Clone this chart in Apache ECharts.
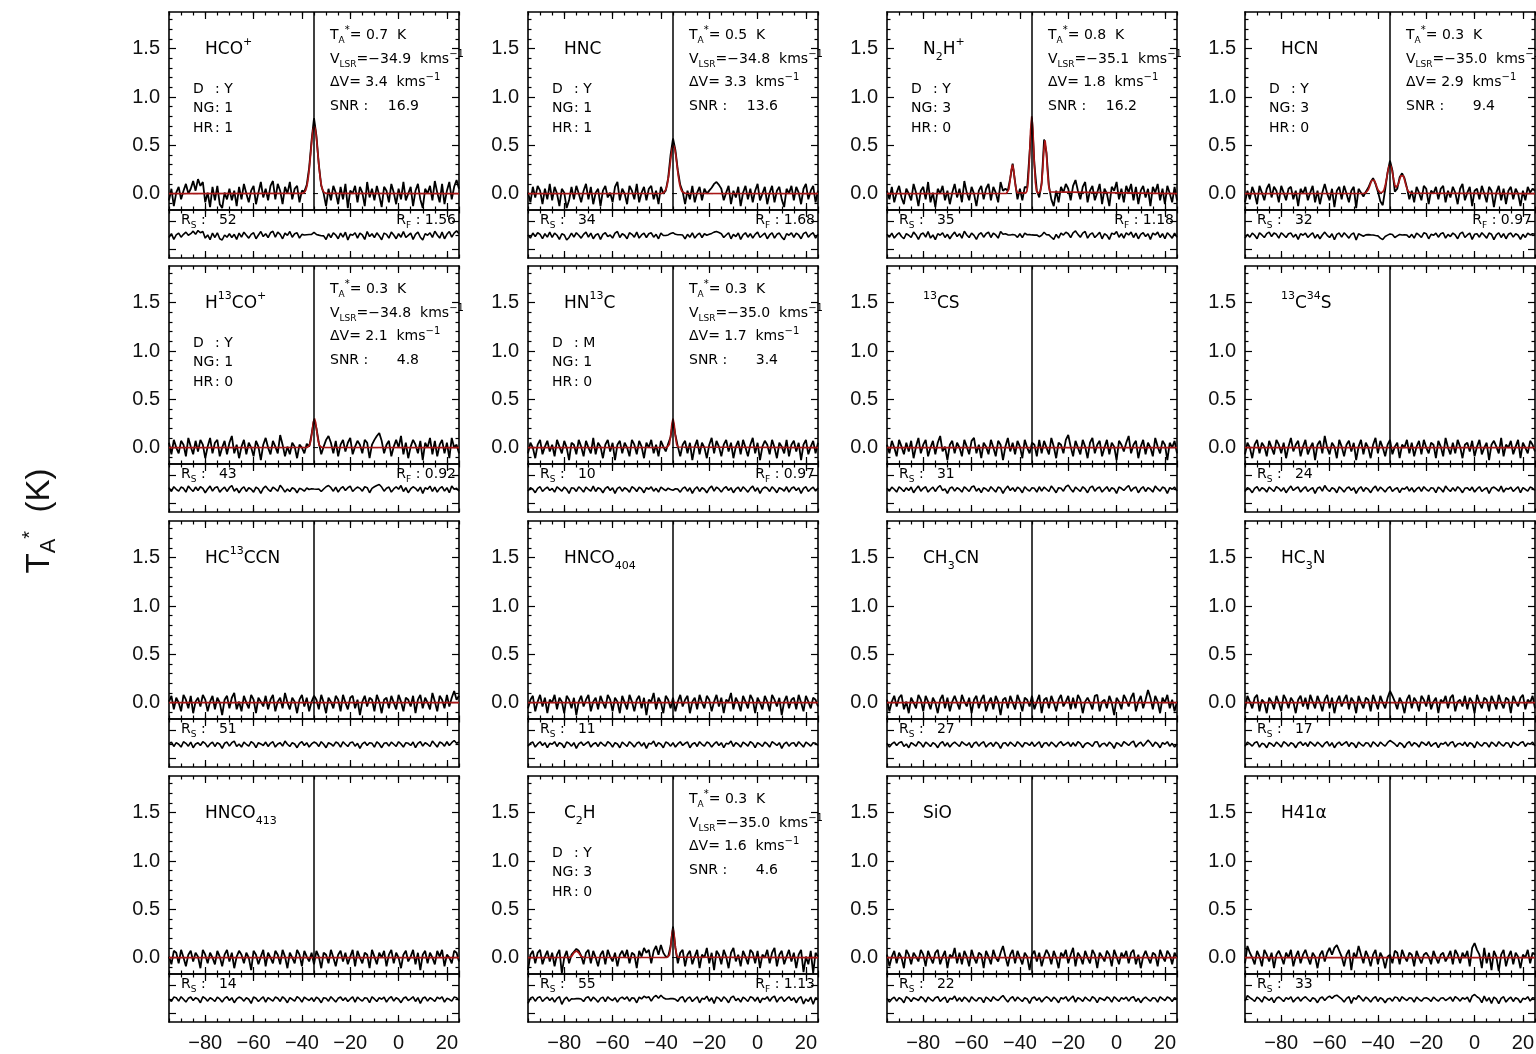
<!DOCTYPE html>
<html>
<head>
<meta charset="utf-8">
<script src="https://cdn.jsdelivr.net/npm/echarts@6/dist/echarts.min.js"></script>
<style>
html,body{margin:0;padding:0;background:#fff;}
#chart{width:1536px;height:1054px;}
</style>
</head>
<body>
<div id="chart"></div>
<script>
// ---- velocity axis: channels from -95 to +25 km/s, 1 km/s apart ----
const V_START = -95;
const V_STEP = 1;
const vRef = -35.0;                       // systemic velocity marker
const xTickLabels = [-80, -60, -40, -20, 0, 20];
const yTickLabels = [0, 0.5, 1.0, 1.5];
const yMinorTicks = [-0.1, 0.1, 0.2, 0.3, 0.4, 0.6, 0.7, 0.8, 0.9, 1.1, 1.2, 1.3, 1.4, 1.6, 1.7, 1.8];
const resTicks = [-0.45, 0.45];
const resMinorTicks = [0];

// ---- line list (row by row) ----
const molecules = ['HCO+', 'HNC', 'N2H+', 'HCN', 'H13CO+', 'HN13C', '13CS', '13C34S',
  'HC13CCN', 'HNCO404', 'CH3CN', 'HC3N', 'HNCO413', 'C2H', 'SiO', 'H41α'];
const moleculeMarkup = [
  '{n|HCO}{sup|+}', '{n|HNC}', '{n|N}{sub|2}{n|H}{sup|+}', '{n|HCN}',
  '{n|H}{sup|13}{n|CO}{sup|+}', '{n|HN}{sup|13}{n|C}', '{sup|13}{n|CS}', '{sup|13}{n|C}{sup|34}{n|S}',
  '{n|HC}{sup|13}{n|CCN}', '{n|HNCO}{sub|404}', '{n|CH}{sub|3}{n|CN}', '{n|HC}{sub|3}{n|N}',
  '{n|HNCO}{sub|413}', '{n|C}{sub|2}{n|H}', '{n|SiO}', '{n|H41α}'
];
const detFlag  = ['Y', 'Y', 'Y', 'Y', 'Y', 'M', null, null, null, null, null, null, null, 'Y', null, null];
const nGauss   = [1, 1, 3, 3, 1, 1, null, null, null, null, null, null, null, 3, null, null];
const hyperRes = [1, 1, 0, 0, 0, 0, null, null, null, null, null, null, null, 0, null, null];
const peakT    = [0.7, 0.5, 0.8, 0.3, 0.3, 0.3, null, null, null, null, null, null, null, 0.3, null, null];
const vLsr     = [-34.9, -34.8, -35.1, -35.0, -34.8, -35.0, null, null, null, null, null, null, null, -35.0, null, null];
const dV       = [3.4, 3.3, 1.8, 2.9, 2.1, 1.7, null, null, null, null, null, null, null, 1.6, null, null];
const snr      = [16.9, 13.6, 16.2, 9.4, 4.8, 3.4, null, null, null, null, null, null, null, 4.6, null, null];
const rS       = [52, 34, 35, 32, 43, 10, 31, 24, 51, 11, 27, 17, 14, 55, 22, 33];
const rF       = [1.56, 1.68, 1.18, 0.97, 0.92, 0.97, null, null, null, null, null, null, null, 1.13, null, null];

// ---- observed spectra, antenna temperature in units of 0.01 K ----
const specHCOp = [
  -7, 5, -13, 1, 7, -6, 3, 10, 0, 5,
  13, 3, 15, 8, 12, -9, 1, -14, 7, -7,
  8, -11, -15, 1, -6, 5, -7, 3, -13, 7,
  -6, 10, 0, -9, 3, 8, -11, 1, 12, -4,
  5, -7, 8, 13, -6, 10, 3, -11, 7, 0,
  12, -6, 5, 8, -9, 3, 2, 9, 27, 55,
  78, 60, 30, 8, 0, -13, 5, -7, 8, 1,
  -11, 7, -6, 10, -15, 3, 0, 8, -9, 7,
  1, -13, 12, -4, 5, -7, 8, -2, -14, 7,
  3, -9, 10, 1, -11, 5, -6, 12, -7, 0,
  7, -13, 3, 10, -6, -15, 5, 0, 8, -7,
  13, 1, -9, 10, -11, 3, 12, -6, 7, 14,
  5];
const specHNC = [
  1, -9, 7, -4, 8, 3, -11, 5, -6, 10,
  -7, 7, 0, -13, 5, 1, -15, -7, 7, -6,
  8, 0, -9, 3, 10, -6, 7, -11, 1, 5,
  -13, 3, 8, -4, 1, -9, 7, 12, -7, 5,
  0, -11, 8, 3, -6, 10, -9, 1, 7, -7,
  5, 8, -6, 3, -11, 7, 0, 3, 16, 40,
  57, 45, 24, 9, 2, -11, 3, -6, 8, -9,
  1, 7, -7, 5, 0, 3, 6, 10, 12, 9,
  5, -7, 1, 8, -11, 3, -4, 7, -13, 1,
  8, -6, 5, -9, 3, 10, -7, 0, 7, -11,
  1, 8, -9, 3, 7, -6, -14, 5, 0, 8,
  -7, 7, 1, -11, 5, 10, -6, 3, 8, -9,
  3];
const specN2Hp = [
  3, -6, 7, -9, 1, 8, -4, -11, 5, 0,
  -7, 10, 1, -13, 3, 7, -6, 12, -9, 1,
  -14, 5, 0, 8, -7, 3, -11, 1, 10, -4,
  5, -9, 13, 1, -7, 7, 0, -13, 3, 8,
  -6, 5, 10, -7, 7, 1, -9, 12, 3, 5,
  3, 16, 31, 12, -6, 5, -7, 7, 6, 42,
  78, 30, 3, -4, 11, 56, 42, 8, -6, -13,
  3, -9, 7, 1, 10, 5, -7, 8, 14, 3,
  -6, 7, 12, -9, 3, 8, -7, 1, 10, -11,
  5, 0, -13, 7, 3, 12, -6, 5, -9, 8,
  1, 10, -7, 7, -11, 3, 8, -4, 5, -13,
  7, 1, 10, -7, 5, -11, 8, 0, -9, 7,
  -7];
const specHCN = [
  -9, 3, -6, 7, 0, -11, 8, 1, -7, 5,
  10, -4, 7, 3, -9, 8, 1, -7, 5, 7,
  -6, 3, -13, 5, 0, 7, -7, 1, 8, -9,
  3, -11, 1, 10, 0, -7, 5, -14, 3, 7,
  -6, 8, 0, -9, 3, 7, -15, 5, 1, -3,
  2, 6, 12, 16, 10, 2, -8, -12, 4, 22,
  34, 24, 2, 5, 17, 21, 16, 6, -6, 3,
  -9, 7, 1, -7, 8, 5, -11, 3, 0, 7,
  -6, 5, 8, -9, 3, -4, 7, 1, -11, 5,
  10, -7, 1, 7, -13, 3, 5, -6, 8, 0,
  -9, 7, 3, -14, 1, 8, -7, 5, -11, 3,
  7, -6, 5, 0, -13, 3, -7, 7, 1, 5,
  3];
const specH13COp = [
  5, -7, 8, 0, -6, 7, 3, -9, 10, 1,
  -7, 7, -4, 8, 3, -11, 1, 10, -6, 5,
  8, -9, 0, 7, -7, 5, 12, -6, 3, -11,
  1, 8, -7, 5, 0, -9, 7, 1, -13, 3,
  10, 0, -7, 7, 1, -6, 13, 3, -9, 1,
  -7, 5, 1, -11, 3, 0, -6, 4, 1, 14,
  29, 20, 5, -7, 1, 8, 12, 5, -6, 7,
  -9, 3, 8, -4, 5, 10, -7, 1, 7, 3,
  -6, 8, 5, -11, 3, 8, 12, 15, 7, -6,
  3, 7, -9, 1, 8, 0, 12, -7, 5, -11,
  1, 8, 3, -6, 7, -13, 5, 0, 10, -7,
  7, -9, 3, 8, -6, 5, -11, 10, 0, 3,
  -6];
const specHN13C = [
  -6, 5, 0, -11, 3, 8, -7, 1, 7, -4,
  3, -9, 8, 1, -6, 7, 0, -13, 5, 3,
  -7, 8, 1, -9, 7, 0, -6, 10, -7, 5,
  1, -11, 3, 8, -4, 5, -13, 3, 7, -6,
  5, 0, -9, 8, 3, -7, 7, 1, -11, 5,
  0, 8, -6, 3, -9, 7, 1, -4, 4, 11,
  27, 13, 1, -9, 3, 7, -6, 5, -13, 1,
  8, -7, 5, 0, -11, 3, 10, -6, 7, 1,
  -9, 3, 8, -4, 5, -11, 1, 7, -7, 8,
  0, -9, 3, 10, -6, 5, -13, 1, 7, 3,
  -7, 8, 0, -11, 5, 1, -6, 8, -9, 3,
  7, -4, 5, -13, 3, 8, -7, 1, 7, -6,
  5];
const spec13CS = [
  3, -6, 7, 0, -9, 8, 1, -7, 5, -4,
  7, -11, 1, 10, -6, 3, 8, -9, 0, 7,
  -7, 5, 12, -4, 1, -13, 3, 7, -6, 5,
  0, -9, 8, 1, -7, 7, 10, -6, 3, -11,
  5, 1, -7, 8, 0, -9, 7, 3, -13, 1,
  10, -4, 5, -7, 7, 1, -11, 8, 0, -6,
  5, 3, -9, 8, -6, 7, 0, -7, 10, 1,
  -11, 5, 3, -6, 8, 13, 1, -9, 7, 0,
  -7, 8, 1, -11, 5, 10, -6, 3, 7, -9,
  0, 8, -7, 5, 1, -13, 7, 3, -4, 5,
  12, -6, 3, 7, -11, 1, 8, -7, 5, 0,
  -9, 10, 1, -6, 7, 3, -13, 5, 0, 7,
  -6];
const spec13C34S = [
  -7, 5, 0, -11, 3, 8, -6, 5, 1, -9,
  7, 0, -7, 8, 3, -6, 5, -11, 1, 10,
  -4, 3, 7, -9, 1, 8, -7, 0, 5, -13,
  3, 7, -6, 12, 0, -7, 5, 1, -11, 8,
  1, -9, 3, 7, -4, 5, -13, 1, 8, -7,
  5, 0, -11, 3, 10, -6, 7, 0, -9, 3,
  8, -7, 1, 5, -11, 3, 0, 8, -6, 5,
  -9, 1, 7, -7, 8, 0, -6, 5, 3, -11,
  7, 1, -9, 10, 0, -7, 5, -6, 8, 1,
  -11, 3, 5, -4, 7, -9, 1, 8, -7, 0,
  5, -13, 3, 7, 1, -6, 10, -9, 3, 0,
  7, -7, 1, 8, -11, 5, 0, -6, 7, 3,
  -4];
const specHC13CCN = [
  1, 7, -7, 5, 0, -9, 8, 3, -6, 7,
  -11, 1, 5, -4, 8, 3, -9, 1, 7, -7,
  5, 0, -13, 3, 7, -6, 5, 10, -7, 1,
  -9, 7, 0, -6, 8, 3, -11, 5, 1, -4,
  7, -7, 3, 8, -9, 1, 5, -6, 10, 0,
  -7, 5, 1, -11, 3, 8, -4, 5, -9, 1,
  7, 3, -7, 8, 0, -11, 5, 1, -6, 7,
  3, -9, 8, 0, -7, 5, 7, -6, 3, -13,
  1, 7, -4, 5, 3, -9, 8, 1, -11, 3,
  5, -6, 7, 0, -7, 8, 1, -9, 5, 3,
  -4, 7, -11, 3, 8, -6, 5, 0, -7, 10,
  1, -9, 7, 3, -6, 8, -4, 5, 12, 3,
  7];
const specHNCO404 = [
  -6, 3, 7, -9, 1, 8, -4, 5, -11, 3,
  0, 8, -7, 5, 1, -11, 7, 3, -6, 5,
  -13, 1, 7, -4, 3, 8, -9, 1, 5, -7,
  7, 0, -6, 8, 3, -9, 5, 1, -11, 7,
  0, -7, 8, 1, -9, 3, 7, -6, 5, -13,
  3, 1, 10, -7, 5, 0, -11, 7, 3, -6,
  5, -9, 1, 8, -4, 3, 7, -11, 1, 5,
  -7, 8, 0, -6, 7, 3, -9, 1, 8, -4,
  5, -11, 3, 1, 10, -7, 5, 0, -9, 7,
  1, -6, 8, 3, -11, 5, 0, -7, 7, 1,
  -9, 8, 3, -4, 5, -13, 1, 7, -6, 3,
  5, -7, 8, 0, -9, 7, 1, -6, 5, 3,
  -4];
const specCH3CN = [
  3, -9, 1, 7, -4, 5, 8, -7, 1, -11,
  5, 0, -6, 8, 3, -9, 7, 1, -7, 5,
  0, -11, 3, 8, -6, 5, -9, 1, 7, 0,
  -7, 8, 1, -4, 5, -11, 3, 7, -6, 3,
  8, -9, 0, 5, -7, 7, 1, -13, 3, 5,
  -6, 7, 0, -7, 8, 1, -9, 5, 3, -4,
  7, -7, 1, 8, -11, 3, 5, -6, 7, 0,
  -9, 3, 8, -4, 1, 7, -7, 5, -6, 8,
  3, -11, 1, 5, 0, -7, 7, 8, -9, 1,
  3, -6, 7, 0, -13, 5, 1, -7, 8, 3,
  -4, 5, 10, -9, 1, 7, -6, 3, 13, 5,
  -7, 7, 1, -11, 5, 0, 8, -6, 3, -9,
  1];
const specHC3N = [
  -7, 7, 1, -6, 5, 8, -9, 3, 0, -11,
  5, 1, -7, 7, 0, -9, 8, 3, -6, 5,
  1, -11, 3, 7, -4, 5, -7, 8, 1, -6,
  7, 0, -9, 3, 8, -6, 5, -11, 1, 7,
  -4, 3, 8, -7, 5, 1, -11, 7, 0, -6,
  5, 3, -9, 8, 1, -7, 7, 0, -6, 5,
  12, 7, 1, -7, 5, 0, -11, 3, 8, -6,
  5, 1, -9, 7, 3, -4, 8, -7, 1, 5,
  -11, 3, 0, 7, -6, 5, 8, -9, 1, 3,
  -4, 7, -7, 5, 1, -11, 8, 0, -6, 5,
  3, -9, 7, 1, -7, 8, 0, -6, 5, 3,
  -11, 7, 1, -4, 5, 8, -7, 3, 0, 7,
  -6];
const specHNCO413 = [
  1, -7, 7, 5, -6, 8, 0, -9, 3, 7,
  -4, 5, 1, -11, 8, 3, -6, 5, 0, -7,
  7, 1, -9, 3, 8, -4, 5, -11, 1, 7,
  3, -6, 5, 0, -13, 7, 3, -7, 1, 8,
  -9, 5, 0, -6, 7, 3, -7, 8, 1, -11,
  5, 0, -6, 8, 3, -9, 7, 1, -4, 5,
  -7, 7, 1, -11, 5, 3, -6, 8, 0, -9,
  3, 7, -4, 5, -7, 1, 8, -9, 7, 0,
  -6, 5, 3, -11, 8, 1, -7, 5, 0, 7,
  -9, 3, 8, -6, 5, 0, -11, 3, 7, -4,
  1, 8, -7, 5, -13, 3, 7, -6, 5, 0,
  -7, 7, 1, 8, -9, 3, 0, -6, 7, 5,
  -4];
const specC2H = [
  -13, 3, 7, -6, 5, 8, -7, 1, 7, -4,
  5, -9, 3, 8, -16, 0, 7, -6, 3, 6,
  9, 7, 2, -7, 5, 8, -6, 7, 0, -9,
  3, 7, -7, 8, 1, -4, 5, -9, 3, 7,
  0, 8, -6, 5, 3, -11, 7, 1, 10, 5,
  8, -6, 7, 12, 3, 13, 5, 1, 1, 12,
  32, 10, -6, 5, 8, -9, 3, 7, -7, 1,
  8, -11, 3, 0, 10, -6, 5, -13, 7, 3,
  -7, 8, 1, -11, 5, 10, -4, 3, -9, 7,
  1, -7, 8, 5, -6, 7, -11, 3, 0, 8,
  -6, 5, 10, -9, 3, 7, -7, 1, 8, -4,
  5, -11, 3, 8, -15, 1, -7, 7, -16, 5,
  1];
const specSiO = [
  3, -9, 1, 7, -6, 5, 0, -11, 8, 3,
  -7, 5, 1, -4, 8, 3, -9, 7, 0, -6,
  5, 8, -7, 1, 7, -11, 3, 0, 10, -6,
  5, -7, 7, 1, -9, 8, 0, -6, 5, 3,
  -11, 7, 1, -7, 8, 0, -4, 5, 12, 1,
  -9, 3, 8, -6, 7, 0, -7, 5, 1, -13,
  3, 7, -4, 5, -9, 1, 8, 3, -7, 7,
  0, -11, 5, 1, 8, -6, 3, 10, -9, 5,
  1, -7, 7, 0, -6, 8, 3, -11, 5, 1,
  -4, 7, 3, -9, 8, 1, -7, 5, 0, 7,
  -6, 5, 8, -7, 3, -11, 1, 7, 0, -6,
  5, 3, -9, 8, 1, -4, 7, 3, -7, 5,
  0];
const specH41a = [
  -6, 12, 5, 0, -7, 7, 1, -9, 8, 3,
  -4, 5, -11, 3, 7, 1, -7, 5, 0, 8,
  -9, 1, 7, -6, 3, 8, 0, -7, 5, 1,
  -11, 3, 7, -4, 5, 10, 3, 10, 13, 7,
  1, -9, 3, 8, -13, 5, 0, 12, 3, -6,
  7, 1, -9, 3, 8, -7, 5, 0, -11, 1,
  3, -6, 7, 5, -7, 8, 1, -4, 5, 3,
  -9, 7, 0, -6, 3, 5, 1, -7, 7, 0,
  -6, 3, 5, -4, 1, 7, -7, 8, 3, -6,
  5, 0, 7, -9, 10, 15, 8, 3, -11, 10,
  -6, 5, -13, 7, 1, -14, 3, 8, -9, 1,
  7, -7, 5, 1, -11, 3, 0, 8, -6, 5,
  3];

// ---- Gaussian fits, [velocity km/s, T K] ----
const fitFlat = [[-95, 0], [25, 0]];
const fitHCOp = [[-95, 0], [-39.9, 0.002], [-38.9, 0.015], [-38.4, 0.037], [-37.9, 0.081], [-37.4, 0.156],
  [-36.9, 0.268], [-36.4, 0.408], [-35.9, 0.551], [-35.4, 0.659], [-34.9, 0.7], [-34.4, 0.659], [-33.9, 0.551],
  [-33.4, 0.408], [-32.9, 0.268], [-32.4, 0.156], [-31.9, 0.081], [-31.4, 0.037], [-30.9, 0.015], [-29.9, 0.002], [25, 0]];
const fitHNC = [[-95, 0], [-39.8, 0.001], [-38.8, 0.009], [-38.3, 0.022], [-37.8, 0.051], [-37.3, 0.102],
  [-36.8, 0.181], [-36.3, 0.282], [-35.8, 0.388], [-35.3, 0.469], [-34.8, 0.5], [-34.3, 0.469], [-33.8, 0.388],
  [-33.3, 0.282], [-32.8, 0.181], [-32.3, 0.102], [-31.8, 0.051], [-31.3, 0.022], [-30.8, 0.009], [-29.8, 0.001], [25, 0]];
const fitN2Hp = [[-95, 0], [-45.6, 0.001], [-45.1, 0.010], [-44.6, 0.044], [-44.1, 0.128], [-43.6, 0.242],
  [-43.1, 0.3], [-42.6, 0.242], [-42.1, 0.128], [-41.6, 0.044], [-41.1, 0.010], [-40.6, 0.001],
  [-37.6, 0.004], [-37.1, 0.026], [-36.6, 0.117], [-36.1, 0.34], [-35.6, 0.646], [-35.1, 0.8], [-34.6, 0.646],
  [-34.1, 0.34], [-33.6, 0.117], [-33.1, 0.026], [-32.6, 0.004], [-32.1, 0.003], [-31.6, 0.018], [-31.1, 0.080],
  [-30.6, 0.234], [-30.1, 0.444], [-29.6, 0.55], [-29.1, 0.444], [-28.6, 0.234], [-28.1, 0.080], [-27.6, 0.018],
  [-27.1, 0.003], [25, 0]];
const fitHCN = [[-95, 0], [-46, 0.001], [-45.5, 0.003], [-45, 0.008], [-44.5, 0.019], [-44, 0.040], [-43.5, 0.072],
  [-43, 0.108], [-42.5, 0.138], [-42, 0.150], [-41.5, 0.138], [-41, 0.108], [-40.5, 0.072], [-40, 0.040],
  [-39.5, 0.020], [-39, 0.009], [-38.5, 0.008], [-38, 0.016], [-37.5, 0.038], [-37, 0.080], [-36.5, 0.143],
  [-36, 0.216], [-35.5, 0.276], [-35, 0.300], [-34.5, 0.276], [-34, 0.217], [-33.5, 0.147], [-33, 0.091],
  [-32.5, 0.064], [-32, 0.069], [-31.5, 0.101], [-31, 0.145], [-30.5, 0.184], [-30, 0.200], [-29.5, 0.184],
  [-29, 0.144], [-28.5, 0.095], [-28, 0.054], [-27.5, 0.026], [-27, 0.010], [-26.5, 0.004], [-26, 0.001], [25, 0]];
const fitH13COp = [[-95, 0], [-37.8, 0.001], [-37.3, 0.006], [-36.8, 0.024], [-36.3, 0.073], [-35.8, 0.160],
  [-35.3, 0.256], [-34.8, 0.3], [-34.3, 0.256], [-33.8, 0.160], [-33.3, 0.073], [-32.8, 0.024], [-32.3, 0.006],
  [-31.8, 0.001], [25, 0]];
const fitHN13C = [[-95, 0], [-37.5, 0.001], [-37, 0.006], [-36.5, 0.035], [-36, 0.115], [-35.5, 0.236],
  [-35, 0.3], [-34.5, 0.236], [-34, 0.115], [-33.5, 0.035], [-33, 0.006], [-32.5, 0.001], [25, 0]];
const fitC2H = [[-95, 0], [-78, 0.002], [-77, 0.012], [-76.5, 0.03], [-76, 0.05], [-75.5, 0.065], [-75, 0.07],
  [-74.5, 0.065], [-74, 0.05], [-73.5, 0.03], [-73, 0.012], [-72, 0.002], [-37.5, 0.001], [-37, 0.004],
  [-36.5, 0.026], [-36, 0.101], [-35.5, 0.229], [-35, 0.3], [-34.5, 0.229], [-34, 0.101], [-33.5, 0.026],
  [-33, 0.004], [-32.5, 0.001], [25, 0]];

const spectra = [specHCOp, specHNC, specN2Hp, specHCN, specH13COp, specHN13C, spec13CS, spec13C34S,
  specHC13CCN, specHNCO404, specCH3CN, specHC3N, specHNCO413, specC2H, specSiO, specH41a];
const fits = [fitHCOp, fitHNC, fitN2Hp, fitHCN, fitH13COp, fitHN13C, fitFlat, fitFlat,
  fitFlat, fitFlat, fitFlat, fitFlat, fitFlat, fitC2H, fitFlat, fitFlat];

// ---- page layout ----
const colLeft = [169, 528, 887, 1245];
const rowTop = [12, 266, 521, 776];
const PW = 290, MH = 198, RH = 48;
const X_MIN = -95, X_MAX = 25;
const Y_MIN = -0.17, Y_MAX = 1.88;
const R_MIN = -0.72, R_MAX = 0.8;

const TF = '"Liberation Sans", Arial, sans-serif';
const PF = '"DejaVu Sans", sans-serif';
const MINUS = '\u2212';
const fmtSigned = v => (v < 0 ? MINUS : '') + Math.abs(v).toFixed(1);
const fmtX = v => (v < 0 ? MINUS : '') + Math.abs(v);

// linear interpolation in a fitted model
function fitAt(fit, v) {
  for (let k = 0; k < fit.length - 1; k++) {
    const a = fit[k], b = fit[k + 1];
    if (v >= a[0] && v <= b[0]) return a[1] + (b[1] - a[1]) * (v - a[0]) / (b[0] - a[0]);
  }
  return 0;
}

const grids = [], xAxes = [], yAxes = [], series = [], graphics = [];
const frameLine = { show: true, onZero: false, lineStyle: { color: '#000', width: 1.6 } };
const hiddenLine = { show: false, onZero: false };
const tickStyle = { color: '#000', width: 1.2 };

function addAxes(gi, yMin, yMax, yMajor, yMinor, showXLabels, showYLabels) {
  const common = { gridIndex: gi, type: 'value', splitLine: { show: false }, splitArea: { show: false }, silent: true };
  ['bottom', 'top'].forEach(pos => {
    xAxes.push(Object.assign({}, common, {
      min: X_MIN, max: X_MAX, position: pos, axisLine: frameLine,
      axisTick: { show: true, inside: true, length: 7, customValues: xTickLabels, lineStyle: tickStyle },
      axisLabel: { show: showXLabels && pos === 'bottom', customValues: xTickLabels, formatter: fmtX,
        margin: 11, fontSize: 20, fontFamily: TF, color: '#111' }
    }));
    xAxes.push(Object.assign({}, common, {
      min: X_MIN, max: X_MAX, interval: 5, position: pos, axisLine: hiddenLine,
      axisTick: { show: true, inside: true, length: 3.5, lineStyle: tickStyle },
      axisLabel: { show: false }
    }));
  });
  ['left', 'right'].forEach(pos => {
    yAxes.push(Object.assign({}, common, {
      min: yMin, max: yMax, position: pos, axisLine: frameLine,
      axisTick: { show: true, inside: true, length: 7, customValues: yMajor, lineStyle: tickStyle },
      axisLabel: { show: showYLabels && pos === 'left', customValues: yMajor, formatter: v => v.toFixed(1),
        margin: 9, fontSize: 20, fontFamily: TF, color: '#111' }
    }));
    yAxes.push(Object.assign({}, common, {
      min: yMin, max: yMax, position: pos, axisLine: hiddenLine,
      axisTick: { show: true, inside: true, length: 3.5, customValues: yMinor, lineStyle: tickStyle },
      axisLabel: { show: false, customValues: yMinor }
    }));
  });
}

const richName = {
  n: { fontSize: 17, lineHeight: 26, fontFamily: PF, fill: '#000' },
  sup: { fontSize: 11, lineHeight: 13, verticalAlign: 'top', fontFamily: PF, fill: '#000' },
  sub: { fontSize: 11, lineHeight: 15, verticalAlign: 'bottom', fontFamily: PF, fill: '#000' }
};
const richInfo = {
  t: { fontSize: 14, lineHeight: 20, fontFamily: PF, fill: '#000' },
  ts: { fontSize: 9, lineHeight: 12, verticalAlign: 'bottom', fontFamily: PF, fill: '#000' },
  tp: { fontSize: 10, lineHeight: 10, verticalAlign: 'top', fontFamily: PF, fill: '#000' }
};

function txt(x, y, text, rich, align) {
  graphics.push({
    type: 'text', silent: true, z: 100,
    style: { x: x, y: y, text: text, rich: rich, fontFamily: PF, fontSize: 14, fill: '#000',
      align: align || 'left', textAlign: align || 'left', verticalAlign: 'middle', textVerticalAlign: 'middle' }
  });
}

for (let p = 0; p < 16; p++) {
  const row = Math.floor(p / 4), col = p % 4;
  const L = colLeft[col], T = rowTop[row];
  const gMain = grids.length;
  grids.push({ left: L, top: T, width: PW, height: MH, containLabel: false, outerBoundsMode: 'none' });
  addAxes(gMain, Y_MIN, Y_MAX, yTickLabels, yMinorTicks, false, true);
  const gRes = grids.length;
  grids.push({ left: L, top: T + MH, width: PW, height: RH, containLabel: false, outerBoundsMode: 'none' });
  addAxes(gRes, R_MIN, R_MAX, resTicks, resMinorTicks, row === 3, false);

  const spec = spectra[p].map((t, i) => [V_START + i * V_STEP, t / 100]);
  const fit = fits[p];
  const resid = spec.map(d => [d[0], d[1] - fitAt(fit, d[0])]);

  const mx = gMain * 4, my = gMain * 4, rx = gRes * 4, ry = gRes * 4;
  series.push({ type: 'line', xAxisIndex: mx, yAxisIndex: my, data: [[X_MIN, 0], [X_MAX, 0]], symbol: 'none',
    silent: true, z: 1, lineStyle: { color: '#000', width: 1, type: [5, 7] } });
  series.push({ type: 'line', xAxisIndex: mx, yAxisIndex: my, data: spec, symbol: 'none', silent: true, z: 2,
    lineStyle: { color: '#000', width: 1.8 } });
  series.push({ type: 'line', xAxisIndex: mx, yAxisIndex: my, data: fit, symbol: 'none', silent: true, z: 3,
    lineStyle: { color: '#a81616', width: 1.7 } });
  series.push({ type: 'line', xAxisIndex: mx, yAxisIndex: my, data: [[vRef, Y_MIN], [vRef, Y_MAX]], symbol: 'none',
    silent: true, z: 4, lineStyle: { color: '#000', width: 1.5 } });
  series.push({ type: 'line', xAxisIndex: rx, yAxisIndex: ry, data: resid, symbol: 'none', silent: true, z: 2,
    lineStyle: { color: '#000', width: 1.6 } });

  // panel annotations
  txt(L + 36, T + 38, moleculeMarkup[p], richName);
  if (detFlag[p]) {
    const keys = ['D', 'NG', 'HR'];
    const vals = [detFlag[p], nGauss[p], hyperRes[p]];
    keys.forEach((k, j) => {
      txt(L + 24, T + 77 + j * 19.5, '{t|' + k + '}', richInfo);
      txt(L + 46, T + 77 + j * 19.5, '{t|: ' + vals[j] + '}', richInfo);
    });
  }
  if (peakT[p] !== null) {
    const x0 = L + 161;
    txt(x0, T + 23, '{t|T}{ts|A}{tp|*}{t|= ' + peakT[p].toFixed(1) + '  K}', richInfo);
    txt(x0, T + 47, '{t|V}{ts|LSR}{t|=' + fmtSigned(vLsr[p]) + '  kms}{tp|' + MINUS + '1}', richInfo);
    txt(x0, T + 70.5, '{t|\u0394V= ' + dV[p].toFixed(1) + '  kms}{tp|' + MINUS + '1}', richInfo);
    txt(x0, T + 94, '{t|SNR :}', richInfo);
    txt(L + 250, T + 94, '{t|' + snr[p].toFixed(1) + '}', richInfo, 'right');
  }
  txt(L + 12, T + MH + 10, '{t|R}{ts|S}{t| :   ' + rS[p] + '}', richInfo);
  if (rF[p] !== null) {
    txt(L + 287, T + MH + 10, '{t|R}{ts|F}{t| : ' + rF[p].toFixed(2) + '}', richInfo, 'right');
  }
}

// y-axis title, reading bottom to top
graphics.push({
  type: 'text', silent: true, z: 100, x: 40, y: 521, rotation: Math.PI / 2,
  style: {
    x: 0, y: 0, text: '{T|T}{A|A}{s|*}{T|  (K)}', align: 'center', textAlign: 'center',
    verticalAlign: 'middle', textVerticalAlign: 'middle', fill: '#111',
    rich: {
      T: { fontSize: 33, lineHeight: 40, fontFamily: TF, fill: '#111' },
      A: { fontSize: 22, lineHeight: 27, verticalAlign: 'bottom', fontFamily: TF, fill: '#111' },
      s: { fontSize: 20, lineHeight: 28, verticalAlign: 'top', fontFamily: TF, fill: '#111' }
    }
  }
});

const chart = echarts.init(document.getElementById('chart'), null, { renderer: 'canvas' });
chart.setOption({
  animation: false,
  backgroundColor: '#fff',
  grid: grids,
  xAxis: xAxes,
  yAxis: yAxes,
  series: series,
  graphic: { elements: graphics }
});
</script>
</body>
</html>
